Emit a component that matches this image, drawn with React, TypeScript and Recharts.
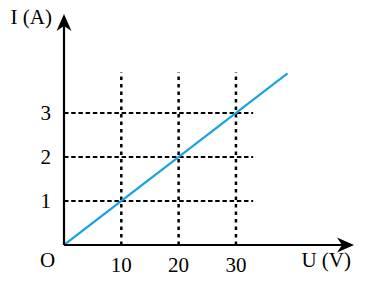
import { Line, LineChart, ReferenceLine, XAxis, YAxis } from "recharts";

// U (V) on x, I (A) on y
const voltage = [0, 39];
const current = [0, 3.9];
const voltTicks = [10, 20, 30];
const ampTicks = [1, 2, 3];
const gridTopAmp = 3.93;
const gridRightVolt = 33;
const xMax = 50.6;
const yMax = 5.25;

const data = voltage.map((u, k) => ({ u, i: current[k] }));

const FONT = "'Liberation Serif', 'Times New Roman', serif";
const FS = 21;

type Seg = { x1?: number; y1?: number; x2?: number; y2?: number };

/** Axis line with a notched arrowhead and a caption near the tip. */
function arrowShape(text: string, dx: number, dy: number, origin?: boolean) {
  return (p: Seg) => {
    const x1 = p.x1 ?? 0, y1 = p.y1 ?? 0, x2 = p.x2 ?? 0, y2 = p.y2 ?? 0;
    const len = Math.hypot(x2 - x1, y2 - y1) || 1;
    const ux = (x2 - x1) / len, uy = (y2 - y1) / len;
    const head = 17, half = 7.5, notch = 12;
    const bx = x2 - ux * head, by = y2 - uy * head;
    const pts = [
      [x2, y2],
      [bx - uy * half, by + ux * half],
      [x2 - ux * notch, y2 - uy * notch],
      [bx + uy * half, by - ux * half],
    ]
      .map((q) => q.join(","))
      .join(" ");
    return (
      <g>
        <line x1={x1} y1={y1} x2={x2 - ux * 8} y2={y2 - uy * 8} stroke="#000" strokeWidth={2.2} />
        <polygon points={pts} fill="#000" />
        <text x={x2 + dx} y={y2 + dy} textAnchor="end" fontFamily={FONT} fontSize={FS} fill="#000">
          {text}
        </text>
        {origin && (
          <text x={x1 - 16.5} y={y1 + 22} textAnchor="middle" fontFamily={FONT} fontSize={FS} fill="#000">
            O
          </text>
        )}
      </g>
    );
  };
}

const tickStyle = { fontFamily: FONT, fontSize: FS, fill: "#000" };

export default function App() {
  return (
    <div style={{ position: "fixed", left: 0, top: 0, background: "#fff" }}>
      <LineChart width={370} height={285} data={data} margin={{ top: 14, right: 16, bottom: 0, left: 0 }}>
        <XAxis
          dataKey="u"
          type="number"
          domain={[0, xMax]}
          ticks={voltTicks}
          allowDataOverflow
          axisLine={false}
          tickLine={false}
          tickSize={0}
          tickMargin={12}
          height={40}
          tick={tickStyle}
        />
        <YAxis
          type="number"
          domain={[0, yMax]}
          ticks={ampTicks}
          allowDataOverflow
          axisLine={false}
          tickLine={false}
          tickSize={0}
          tickMargin={13}
          width={64}
          tick={tickStyle}
        />
        {voltTicks.map((u) => (
          <ReferenceLine
            key={`v${u}`}
            segment={[{ x: u, y: 0 }, { x: u, y: gridTopAmp }]}
            stroke="#000"
            strokeWidth={2.5}
            strokeDasharray="3.5 4"
            ifOverflow="visible"
          />
        ))}
        {ampTicks.map((a) => (
          <ReferenceLine
            key={`h${a}`}
            segment={[{ x: 0, y: a }, { x: gridRightVolt, y: a }]}
            stroke="#000"
            strokeWidth={2}
            strokeDasharray="4.5 2.7"
            ifOverflow="visible"
          />
        ))}
        <Line
          type="linear"
          dataKey="i"
          stroke="#1aa3e0"
          strokeWidth={2.2}
          dot={false}
          isAnimationActive={false}
        />
        <ReferenceLine
          segment={[{ x: 0, y: 0 }, { x: xMax, y: 0 }]}
          ifOverflow="visible"
          shape={arrowShape("U (V)", -3, 22, true)}
        />
        <ReferenceLine
          segment={[{ x: 0, y: 0 }, { x: 0, y: yMax }]}
          ifOverflow="visible"
          shape={arrowShape("I (A)", -12, 10)}
        />
      </LineChart>
    </div>
  );
}
